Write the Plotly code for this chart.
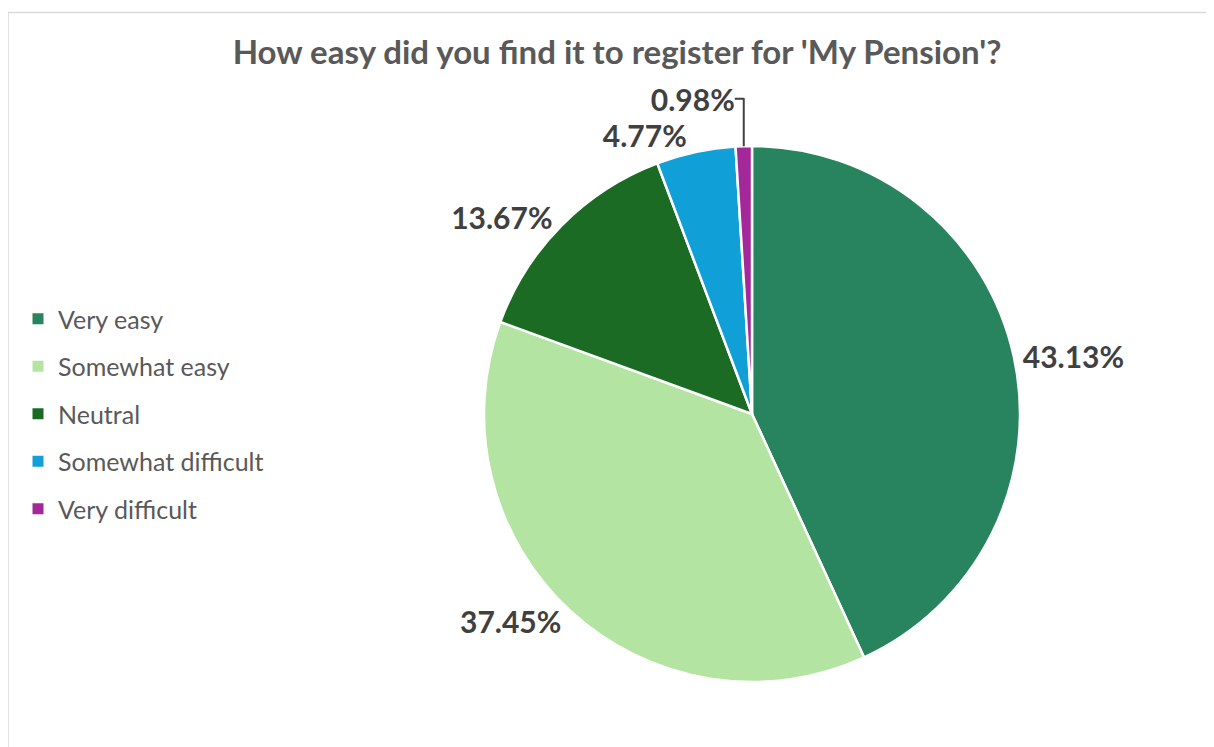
import plotly.graph_objects as go

categories = ["Very easy", "Somewhat easy", "Neutral", "Somewhat difficult", "Very difficult"]
shares = [43.13, 37.45, 13.67, 4.77, 0.98]
colors = ["#28845e", "#b4e4a1", "#1b6b24", "#119fd8", "#a3289a"]

W, H = 1214, 747
# page body adds an 8px offset, so pixel targets are shifted back by 8
OFF = 8
cx, cy, r = 752 - OFF, 414 - OFF, 268

fig = go.Figure()

fig.add_trace(
    go.Pie(
        labels=categories,
        values=shares,
        sort=False,
        direction="clockwise",
        rotation=0,
        marker={"colors": colors, "line": {"color": "white", "width": 2.5}},
        texttemplate="%{value:.2f}%",
        textposition="outside",
        textfont={"family": "Lato", "size": 30, "color": "#404040", "weight": "bold"},
        domain={"x": [(cx - r) / W, (cx + r) / W], "y": [(H - cy - r) / H, (H - cy + r) / H]},
        showlegend=False,
        hoverinfo="label+percent",
    )
)

# legend entries, one group per category so the spacing can be opened up
for name, color in zip(categories, colors):
    fig.add_trace(
        go.Scatter(
            x=[None],
            y=[None],
            mode="markers",
            name=name,
            legendgroup=name,
            marker={"symbol": "square", "size": 11, "color": color},
        )
    )

fig.update_layout(
    width=W,
    height=H,
    margin={"l": 0, "r": 0, "t": 0, "b": 0},
    paper_bgcolor="white",
    plot_bgcolor="white",
    title={
        "text": "<b>How easy did you find it to register for 'My Pension'?</b>",
        "x": (617 - OFF) / W,
        "xanchor": "center",
        "y": 1 - (52 - OFF) / H,
        "yanchor": "middle",
        "font": {"family": "Lato", "size": 33, "color": "#595959"},
    },
    legend={
        "x": (18 - OFF) / W,
        "y": 1 - (296 - OFF) / H,
        "xanchor": "left",
        "yanchor": "top",
        "traceorder": "grouped",
        "tracegroupgap": 12,
        "font": {"family": "Lato", "size": 25, "color": "#595959"},
        "bgcolor": "rgba(0,0,0,0)",
    },
    xaxis={"visible": False},
    yaxis={"visible": False},
    shapes=[
        {
            "type": "rect",
            "xref": "paper",
            "yref": "paper",
            "x0": 0,
            "x1": 1.01,
            "y0": -0.01,
            "y1": 1 - (12.5 - OFF) / H,
            "line": {"color": "#d9d9d9", "width": 1.5},
            "layer": "below",
        }
    ],
)

fig.write_html("out.html")
